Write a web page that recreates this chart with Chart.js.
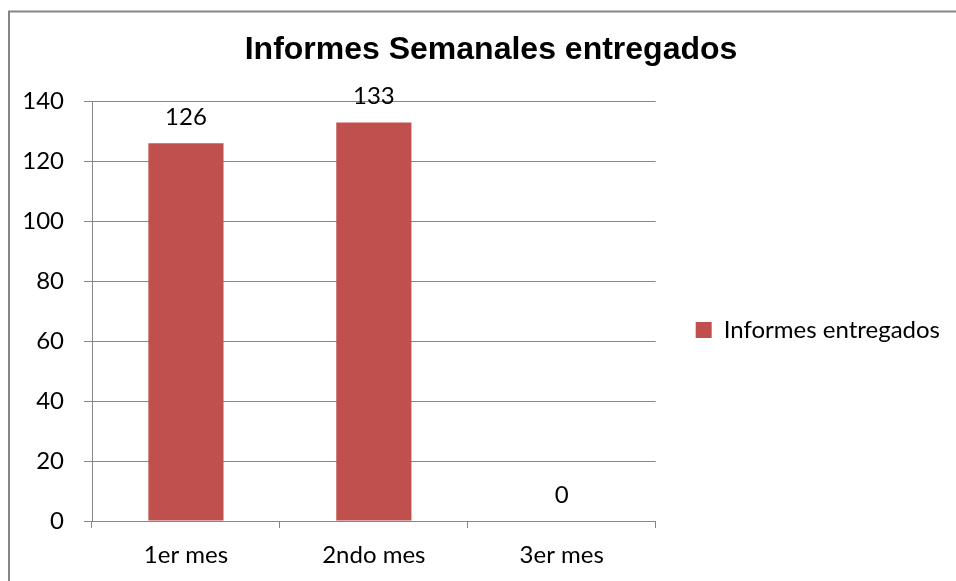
<!DOCTYPE html>
<html>
<head>
<meta charset="utf-8">
<script src="https://cdn.jsdelivr.net/npm/chart.js@4.4.1/dist/chart.umd.min.js"></script>
<style>
  html, body { margin: 0; padding: 0; background: #fff; overflow: hidden; }
  #wrap { width: 956px; height: 581px; }
</style>
</head>
<body>
<div id="wrap"><canvas id="chart" width="956" height="581"></canvas></div>
<script>
/* ---------- DATA ---------- */
const chartTitle = "Informes Semanales entregados";
const categories = ["1er mes", "2ndo mes", "3er mes"];
const seriesName = "Informes entregados";
const seriesValues = [126, 133, 0];
const yMin = 0;
const yMax = 140;
const yStep = 20;

const barColor = "#C0504D";
const lineGray = "#868686";
const labelFont = { family: "Lato", size: 24 };

/* ---------- PLUGINS ---------- */
// outer frame of the chart object (cut by the window on right/bottom)
const framePlugin = {
  id: "frame",
  beforeDraw(chart) {
    const ctx = chart.ctx;
    ctx.save();
    ctx.strokeStyle = lineGray;
    ctx.lineWidth = 2;
    ctx.strokeRect(9, 11.5, 2000, 2000);
    ctx.restore();
  }
};

// value labels above each bar
const valueLabels = {
  id: "valueLabels",
  afterDatasetsDraw(chart) {
    const ctx = chart.ctx;
    ctx.save();
    ctx.font = labelFont.size + "px " + labelFont.family;
    ctx.fillStyle = "#000";
    ctx.textAlign = "center";
    ctx.textBaseline = "alphabetic";
    chart.getDatasetMeta(0).data.forEach((bar, i) => {
      ctx.fillText(String(seriesValues[i]), bar.x, bar.y - 18);
    });
    ctx.restore();
  }
};

// legend down next to the middle of the plot, y labels not clipped
const layoutTweaks = {
  id: "layoutTweaks",
  afterLayout(chart) {
    const lg = chart.legend;
    const dy = 330 - (lg.top + lg.bottom) / 2;
    lg.top += dy;
    lg.bottom += dy;
    chart.scales.y.left = 0;
  }
};

/* ---------- CHART ---------- */
const chart = new Chart(document.getElementById("chart"), {
  type: "bar",
  data: {
    labels: categories,
    datasets: [
      {
        label: seriesName,
        data: seriesValues,
        backgroundColor: barColor,
        borderWidth: 0,
        barPercentage: 0.4,
        categoryPercentage: 1.0
      }
    ]
  },
  options: {
    responsive: false,
    animation: false,
    layout: {
      padding: { left: 32, right: 6, top: 10, bottom: 0 }
    },
    plugins: {
      title: {
        display: true,
        text: chartTitle,
        color: "#000",
        font: { family: "Liberation Sans", size: 32, weight: "bold" },
        padding: { top: 21, bottom: 32 }
      },
      legend: {
        display: true,
        position: "right",
        maxWidth: 400,
        labels: {
          color: "#000",
          font: labelFont,
          boxWidth: 16,
          boxHeight: 16,
          padding: 40
        }
      },
      tooltip: { enabled: false }
    },
    scales: {
      x: {
        afterFit(scale) { scale.height = 60; },
        grid: {
          display: true,
          drawOnChartArea: false,
          drawTicks: true,
          tickLength: 7,
          color: lineGray,
          offset: true
        },
        border: { display: true, color: lineGray, width: 1 },
        ticks: { color: "#000", font: labelFont, padding: 13 }
      },
      y: {
        min: yMin,
        max: yMax,
        afterFit(scale) { scale.width = 60; },
        grid: {
          color: lineGray,
          tickLength: 8,
          drawTicks: true
        },
        border: { display: true, color: lineGray, width: 1 },
        ticks: { stepSize: yStep, color: "#000", font: labelFont, padding: 20 }
      }
    }
  },
  plugins: [framePlugin, valueLabels, layoutTweaks]
});
</script>
</body>
</html>
